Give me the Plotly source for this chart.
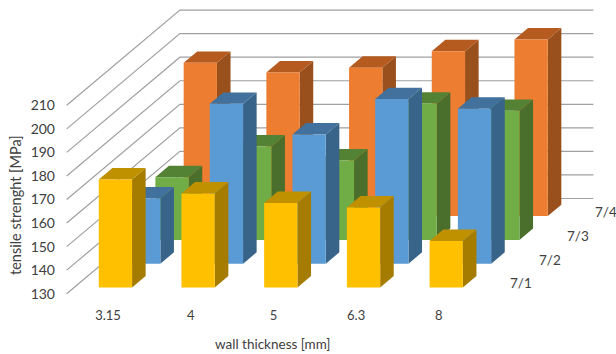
import plotly.graph_objects as go

categories = ["3.15", "4", "5", "6.3", "8"]
series_names = ["7/1", "7/2", "7/3", "7/4"]
values_71 = [175.9, 169.9, 165.9, 164.0, 149.8]
values_72 = [157.7, 197.9, 184.9, 199.9, 195.8]
values_73 = [156.6, 169.7, 163.7, 187.9, 184.8]
values_74 = [195.1, 191.0, 193.0, 200.0, 205.0]
y_ticks = [130, 140, 150, 160, 170, 180, 190, 200, 210]

all_values = [values_71, values_72, values_73, values_74]
front_colors = ["#FFC000", "#5B9BD5", "#70AD47", "#ED7D31"]
top_colors = ["#BF9000", "#41719C", "#548235", "#B65B1F"]
side_colors = ["#A67C00", "#38648A", "#4A6E2B", "#9A501C"]

W, H = 616, 354
PX_X = 82.7          # px per category
PX_V = 2.355         # px per MPa
X0_PX, V0_PX = 66.7, 293.7   # pixel of floor front-left corner (x=0, v=130)
DX = 28.3 / PX_X     # oblique shift of x per unit depth
DV = 23.8 / PX_V     # oblique shift of value per unit depth
BAR_W = 33.3 / PX_X
BAR_D = 0.48
N_CAT, N_SER = len(categories), len(series_names)
GRID = "#A0A0A0"
TEXT = "#404040"
FONT = "Lato"

ML, MB = 56, 48


def proj(x, depth, v):
    return x + DX * depth, v + DV * depth


def add_poly(xs, ys, x, y):
    xs += x + [x[0], None]
    ys += y + [y[0], None]


fig = go.Figure()

# walls: gridlines running along the floor side and the back wall
for tick in y_ticks:
    pts = [proj(0, 0, tick), proj(0, N_SER, tick), proj(N_CAT, N_SER, tick)]
    fig.add_trace(go.Scatter(x=[p[0] for p in pts], y=[p[1] for p in pts], mode="lines",
                             line=dict(color=GRID, width=1.2), hoverinfo="skip", showlegend=False))

# bars, back series first
for s in reversed(range(N_SER)):
    fx, fy, tx, ty, rx, ry = [], [], [], [], [], []
    d0 = s + (1 - BAR_D) / 2
    d1 = d0 + BAR_D
    for c, val in enumerate(all_values[s]):
        x0 = c + (1 - BAR_W) / 2
        x1 = x0 + BAR_W
        corners = [proj(x0, d0, 130), proj(x1, d0, 130), proj(x1, d0, val), proj(x0, d0, val)]
        add_poly(fx, fy, [p[0] for p in corners], [p[1] for p in corners])
        corners = [proj(x0, d0, val), proj(x1, d0, val), proj(x1, d1, val), proj(x0, d1, val)]
        add_poly(tx, ty, [p[0] for p in corners], [p[1] for p in corners])
        corners = [proj(x1, d0, 130), proj(x1, d1, 130), proj(x1, d1, val), proj(x1, d0, val)]
        add_poly(rx, ry, [p[0] for p in corners], [p[1] for p in corners])
    for xs, ys, col in ((rx, ry, side_colors[s]), (tx, ty, top_colors[s]), (fx, fy, front_colors[s])):
        fig.add_trace(go.Scatter(x=xs, y=ys, mode="lines", fill="toself", fillcolor=col,
                                 line=dict(width=0), hoverinfo="skip", showlegend=False,
                                 name=series_names[s]))

# depth axis labels
annotations = []
for s, name in enumerate(series_names):
    lx, lv = proj(N_CAT + 0.327, s + 0.5, 129.3)
    annotations.append(dict(x=lx, y=lv, text=name, showarrow=False, xanchor="center",
                            font=dict(family=FONT, size=13.5, color=TEXT)))
annotations.append(dict(x=(273 - ML) / (W - ML), y=(H - MB - 344) / (H - MB), xref="paper", yref="paper",
                        text="wall thickness [mm]", showarrow=False, xanchor="center", yanchor="middle",
                        font=dict(family=FONT, size=13.5, color=TEXT)))
annotations.append(dict(x=(15 - ML) / (W - ML), y=(H - MB - 205) / (H - MB), xref="paper", yref="paper",
                        text="tensile strenght [MPa]", showarrow=False, textangle=-90,
                        xanchor="center", yanchor="middle",
                        font=dict(family=FONT, size=14.5, color=TEXT)))

fig.update_layout(
    width=W, height=H, margin=dict(l=ML, r=0, t=0, b=MB),
    paper_bgcolor="white", plot_bgcolor="white", showlegend=False,
    annotations=annotations,
    xaxis=dict(range=[(ML - X0_PX) / PX_X, (W - X0_PX) / PX_X], tickmode="array",
               tickvals=[i + 0.5 for i in range(N_CAT)], ticktext=categories,
               showgrid=False, zeroline=False, showline=False, ticks="",
               tickfont=dict(family=FONT, size=13, color=TEXT), fixedrange=True),
    yaxis=dict(range=[130 - (H - MB - V0_PX) / PX_V, 130 + V0_PX / PX_V], tickmode="array",
               tickvals=y_ticks, ticktext=[str(t) for t in y_ticks],
               showgrid=False, zeroline=False, showline=False,
               tickfont=dict(family=FONT, size=14, color=TEXT), fixedrange=True),
)
fig.write_html("out.html", config=dict(displayModeBar=False),
               post_script="document.body.style.margin='0';")
